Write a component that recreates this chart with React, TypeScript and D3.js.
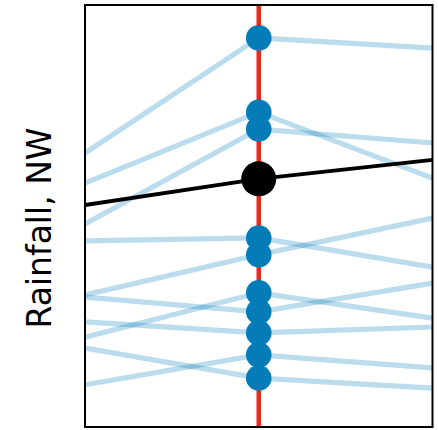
import React from "react";
import * as d3 from "d3";

const positions = [-1, 0, 1];
const leftVals = [64.9, 57.8, 48.1, 44.1, 31.3, 21.3, 30.8, 24.9, 10.0, 18.7];
const midVals = [92.2, 74.6, 70.6, 44.8, 40.8, 31.8, 27.3, 22.3, 17.1, 11.6];
const rightVals = [89.8, 59.0, 67.3, 37.9, 49.5, 25.8, 34.1, 23.7, 14.0, 9.2];
const meanVals = [52.6, 58.8, 63.3];
const yLabel = "Rainfall, NW";

const W = 438;
const H = 430;
const M = { left: 85, right: 5.5, top: 5, bottom: 3 };

export default function App() {
  const x = d3.scaleLinear().domain([-1, 1]).range([M.left, W - M.right]);
  const y = d3.scaleLinear().domain([0, 100]).range([H - M.bottom, M.top]);
  const line = d3
    .line<[number, number]>()
    .x((d) => x(d[0]))
    .y((d) => y(d[1]));

  const series = midVals.map((m, i) => [
    [positions[0], leftVals[i]],
    [positions[1], m],
    [positions[2], rightVals[i]],
  ] as [number, number][]);
  const meanSeries = meanVals.map((v, i) => [positions[i], v] as [number, number]);

  const blue = "#047cb8";
  const x0 = x(0);

  return (
    <svg
      width={W}
      height={H}
      style={{ position: "absolute", left: 0, top: 0, background: "#fff" }}
    >
      <defs>
        <clipPath id="plot">
          <rect x={M.left} y={M.top} width={W - M.left - M.right} height={H - M.top - M.bottom} />
        </clipPath>
      </defs>
      <rect x={0} y={0} width={W} height={H} fill="#fff" />
      <g clipPath="url(#plot)">
        {series.map((s, i) => (
          <path key={i} d={line(s) || ""} fill="none" stroke={blue} strokeOpacity={0.27} strokeWidth={5.2} />
        ))}
        <line x1={x0} x2={x0} y1={M.top} y2={H - M.bottom} stroke="#e8291c" strokeWidth={4.5} />
        <path d={line(meanSeries) || ""} fill="none" stroke="#000" strokeWidth={4} />
        {midVals.map((v, i) => (
          <circle key={i} cx={x0} cy={y(v)} r={12.8} fill={blue} />
        ))}
        <circle cx={x0} cy={y(meanVals[1])} r={17.5} fill="#000" />
      </g>
      <rect
        x={M.left}
        y={M.top}
        width={W - M.left - M.right}
        height={H - M.top - M.bottom}
        fill="none"
        stroke="#000"
        strokeWidth={2}
      />
      <text
        transform={`translate(51, 228) rotate(-90)`}
        textAnchor="middle"
        fontFamily="DejaVu Sans"
        fontSize={33}
        fill="#000"
      >
        {yLabel}
      </text>
    </svg>
  );
}
